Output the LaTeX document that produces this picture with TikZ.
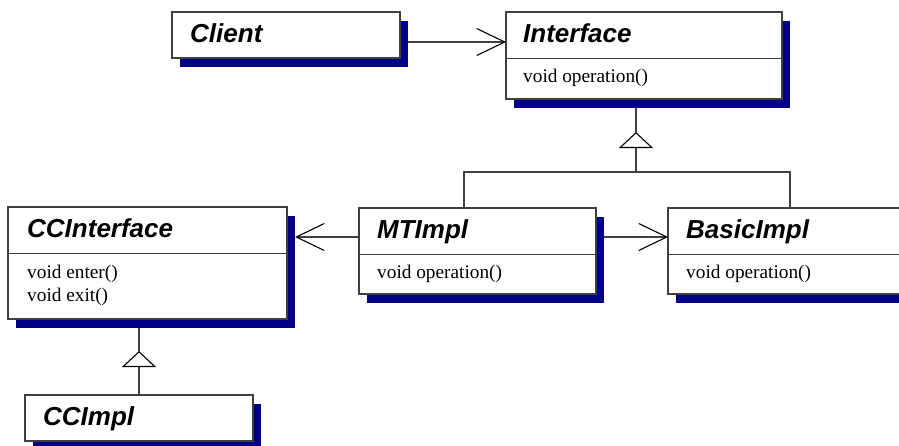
\documentclass[tikz,border=0pt]{standalone}
\usepackage{fontspec}
\setmainfont{Liberation Serif}
\setsansfont{Liberation Sans}
\usetikzlibrary{
    arrows.meta,
    positioning,
    shadows
}
\definecolor{umlnavy}{RGB}{0,0,136}
\tikzset{
    % Colors
    box line color/.style={black!75},
    %
    % Classes
    class box/.style={draw,box line color,line width=1.2pt,fill=white,anchor=north west,inner sep=0pt,outer sep=0pt,
        drop shadow={shadow xshift=8pt,shadow yshift=-9pt,fill=umlnavy,opacity=1}},
    class name/.style={anchor=base west,inner sep=0pt,text=black,font=\sffamily\bfseries\itshape\fontsize{26}{30}\selectfont},
    class op/.style={anchor=base west,inner sep=0pt,text=black,font=\fontsize{19.3}{23}\selectfont},
    divider/.style={box line color,line width=1.2pt},
    %
    % Connectors
    link/.style={black!75,line width=1.1pt},
    assoc/.style={link,-{Straight Barb[length=28pt,width=27pt,black]}},
    inherit/.style={link,-{Triangle[open,length=16pt,width=34pt,black]}}
}

\begin{document}
\begin{tikzpicture}[x=1pt,y=-1pt]
    \useasboundingbox (0,0) rectangle (899,445);
    \clip (0,0) rectangle (899,445);
    % Boxes
    \node[class box,minimum width=228,minimum height=46] (client) at (172,12) {};
    \node[class box,minimum width=276,minimum height=87] (iface) at (506,12) {};
    \node[class box,minimum width=279,minimum height=112] (cci) at (8,207) {};
    \node[class box,minimum width=237,minimum height=86] (mt) at (359,208) {};
    \node[class box,minimum width=240,minimum height=86] (basic) at (668,208) {};
    \node[class box,minimum width=228,minimum height=46] (ccimpl) at (25,395) {};
    \foreach \c in {iface,cci,mt,basic}{
        \draw[divider] ([yshift=-46.5pt]\c.north west) -- ([yshift=-46.5pt]\c.north east);
    }
    % Names and operations
    \node[class name] (client-name) at ([shift={(18,30)}]client.north west) {Client};
    \node[class name] (iface-name) at ([shift={(17,30)}]iface.north west) {Interface};
    \node[class op] (iface-op) at ([shift={(17,70)}]iface.north west) {void operation()};
    \node[class name] (cci-name) at ([shift={(19,30)}]cci.north west) {CCInterface};
    \node[class op] (cci-enter) at ([shift={(19,71)}]cci.north west) {void enter()};
    \node[class op] (cci-exit) at ([yshift=-23pt]cci-enter.base west) {void exit()};
    \node[class name] (mt-name) at ([shift={(18,30)}]mt.north west) {MTImpl};
    \node[class op] (mt-op) at ([shift={(18,70)}]mt.north west) {void operation()};
    \node[class name] (basic-name) at ([shift={(18,30)}]basic.north west) {BasicImpl};
    \node[class op] (basic-op) at ([shift={(18,70)}]basic.north west) {void operation()};
    \node[class name] (ccimpl-name) at ([shift={(18,30)}]ccimpl.north west) {CCImpl};
    % Associations
    \coordinate (client-out) at ([shift={(8,30)}]client.north east);
    \draw[assoc] (client-out) -- (client-out -| iface.west);
    \coordinate (mt-left) at ([yshift=-29pt]mt.north west);
    \coordinate (cci-edge) at ([xshift=8pt]cci.east);
    \draw[assoc] (mt-left) -- (mt-left -| cci-edge);
    \coordinate (mt-right) at ([shift={(8,29)}]mt.north east);
    \draw[assoc] (mt-right) -- (mt-right -| basic.west);
    % Generalizations
    \coordinate (iface-gen) at (636,132);
    \coordinate (iface-fork) at (636,172);
    \coordinate (iface-base) at ([yshift=-9pt]iface.south);
    \draw[inherit] (iface-fork) -- (iface-gen);
    \draw[link] (iface-gen) -- (iface-gen |- iface-base);
    \draw[link] ([xshift=105pt]mt.north west) |- (iface-fork) -| ([xshift=122pt]basic.north west);
    \coordinate (cci-gen) at (139,351);
    \coordinate (cci-base) at ([yshift=-9pt]cci.south);
    \draw[inherit] ([xshift=114pt]ccimpl.north west) -- (cci-gen);
    \draw[link] (cci-gen) -- (cci-gen |- cci-base);
\end{tikzpicture}
\end{document}
